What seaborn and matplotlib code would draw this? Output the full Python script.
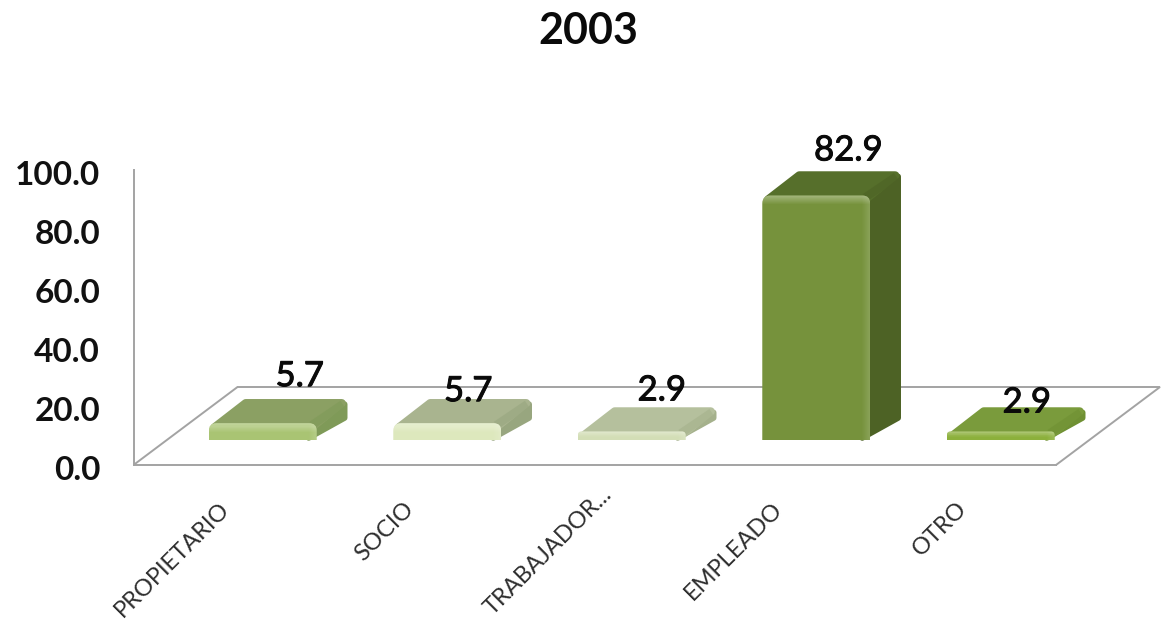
import matplotlib
matplotlib.use("Agg")
import matplotlib.pyplot as plt
import matplotlib.patheffects as pe
import pandas as pd
import seaborn as sns
from matplotlib.patches import FancyBboxPatch, Polygon, Rectangle
from matplotlib.transforms import Affine2D, IdentityTransform

categories = ["PROPIETARIO", "SOCIO", "TRABAJADOR...", "EMPLEADO", "OTRO"]
values = [5.7, 5.7, 2.9, 82.9, 2.9]
y_ticks = [0, 20, 40, 60, 80, 100]

front_colors = ["#a9c473", "#dde8bd", "#d3deb6", "#76923c", "#8cb03c"]
top_colors = ["#8ba063", "#a9b48f", "#b5c09d", "#566f2b", "#7a9b3c"]
side_colors = ["#7f9a58", "#98a67f", "#a5b18c", "#4d6225", "#6f9033"]

# manual label nudges (px from back top edge of each bar), like the hand placed excel labels
label_dx = [37, 21, 30, 32, 26]
label_dy = [23, 8, 17, 21, 5]

W, H = 1169, 623
FONT = ["Lato", "DejaVu Sans"]
BAR_SHIFT = (37, 25)    # bars stand mid way on the floor
BAR_DEPTH = (32, 24)
FLOOR_DEPTH = (104, 78)
GREY = "#a3a3a3"

sns.set_theme(style="white")
plt.rcParams["font.family"] = FONT

fig = plt.figure(figsize=(W / 100, H / 100), dpi=100)
ax = fig.add_axes([133.5 / W, (H - 465) / H, (1056 - 133.5) / W, (465 - 170) / H])

df = pd.DataFrame({"cat": categories, "val": values})
sns.barplot(data=df, x="cat", y="val", hue="cat", palette=front_colors, legend=False,
            width=0.585, saturation=1, linewidth=0, ax=ax)

ax.set_xlim(-0.5, 4.5)
ax.set_ylim(0, 100)
ax.set_xlabel("")
ax.set_ylabel("")
ax.set_yticks(y_ticks, [f"{t:.1f}" for t in y_ticks], fontsize=24, fontweight="bold", color="#111111")
ax.set_xticks(range(len(categories)))
ax.set_xticklabels(categories, rotation=45, ha="right", va="center", rotation_mode="anchor",
                   fontsize=17, color="#2e2e2e")
ax.tick_params(axis="y", length=0, pad=24)
ax.tick_params(axis="x", length=0, pad=29)
sns.despine(ax=ax, top=True, right=True)
for side in ["left", "bottom"]:
    ax.spines[side].set_color(GREY)
    ax.spines[side].set_linewidth(1.4)

# nudge labels: y ticks sit a little low, the long category is pushed up its own slant
for lab in ax.get_yticklabels():
    lab.set_transform(lab.get_transform() + Affine2D().translate(0, -3))
long_lab = ax.get_xticklabels()[2]
long_lab.set_transform(long_lab.get_transform() + Affine2D().translate(14, 14))

# floor of the 3d look
fig.canvas.draw()
x0, y0 = ax.transData.transform((-0.5, 0))
x1, y1 = ax.transData.transform((4.5, 0))
fx, fy = FLOOR_DEPTH
floor = Polygon([(x0, y0), (x0 + fx, y0 + fy), (x1 + fx, y1 + fy), (x1, y1)], closed=False,
                fill=False, edgecolor=GREY, linewidth=1.4, transform=IdentityTransform(), zorder=1)
floor.set_clip_on(False)
ax.add_patch(floor)


def px_patch(patch, z, clip=None):
    patch.set_transform(IdentityTransform())
    patch.set_zorder(z)
    ax.add_patch(patch)
    if clip is None:
        patch.set_clip_on(False)
    else:
        patch.set_clip_path(clip.get_path(), clip.get_transform())
    return patch


shift = Affine2D().translate(*BAR_SHIFT)
dx, dy = BAR_DEPTH
bars = [c[0] for c in ax.containers]
for i, bar in enumerate(bars):
    (bx0, by0), (bx1, by1) = ax.transData.transform(
        [(bar.get_x(), 0), (bar.get_x() + bar.get_width(), bar.get_height())])
    bx0, bx1 = bx0 + BAR_SHIFT[0], bx1 + BAR_SHIFT[0]
    by0, by1 = by0 + BAR_SHIFT[1], by1 + BAR_SHIFT[1]
    r = min(8, (by1 - by0) * 0.45)

    # side and top faces, thick round joins give the soft corners
    px_patch(Polygon([(bx1 - 8, by0 + 2), (bx1 + dx - 4, by0 + dy - 2), (bx1 + dx - 4, by1 + dy - 5), (bx1 - 8, by1 - 6)],
                     facecolor=side_colors[i], edgecolor=side_colors[i], linewidth=4, joinstyle="round"), 3)
    px_patch(Polygon([(bx0 + 6, by1 - 4), (bx1 - 5, by1 - 4), (bx1 + dx - 7, by1 + dy - 4), (bx0 + dx + 5, by1 + dy - 4)],
                     facecolor=top_colors[i], edgecolor=top_colors[i], linewidth=6, joinstyle="round"), 4)
    px_patch(Polygon([(bx1 - 5, by1 - 2), (bx1 + dx - 6, by1 + dy - 5)], closed=False, fill=False,
                     edgecolor=side_colors[i], linewidth=6, alpha=0.6), 4.5)

    # front face comes from seaborn, moved and clipped to a rounded shape
    bar.set_transform(ax.transData + shift)
    bar.set_zorder(5)
    shape = FancyBboxPatch((bx0 + r, by0 - 12), bx1 - bx0 - 2 * r, by1 - by0 + 12 - r,
                           boxstyle=f"round,pad={r},rounding_size={r}", transform=IdentityTransform())
    shape.set_clip_on(False)
    bar.set_clip_on(True)
    bar.set_clip_path(shape.get_path(), shape.get_transform())

    # bevel: lighter band under the top edge and down the right edge
    band = min(9, (by1 - by0) * 0.6)
    steps = 8
    for s in range(steps):
        h = band / steps
        px_patch(Rectangle((bx0, by1 - (s + 1) * h), bx1 - bx0, h, facecolor="white",
                           alpha=0.30 * (1 - s / steps), linewidth=0), 6, shape)
        w = 8 / steps
        px_patch(Rectangle((bx1 - (s + 1) * w, by0), w, by1 - by0, facecolor="white",
                           alpha=0.14 * (1 - s / steps), linewidth=0), 6, shape)

    # value label
    cx = (bx0 + bx1) / 2
    ax.text(cx + label_dx[i], by1 + dy + label_dy[i], f"{values[i]:.1f}", transform=IdentityTransform(),
            ha="center", va="center", fontsize=25, color="#0a0a0a", zorder=8, clip_on=False,
            family=FONT, path_effects=[pe.withStroke(linewidth=0.7, foreground="#0a0a0a")])

fig.text(588 / W, (H - 31) / H, "2003", ha="center", va="center", fontsize=31, fontweight="bold",
         color="#0a0a0a", family=FONT)

fig.savefig("out.png", dpi=100, facecolor="white")
